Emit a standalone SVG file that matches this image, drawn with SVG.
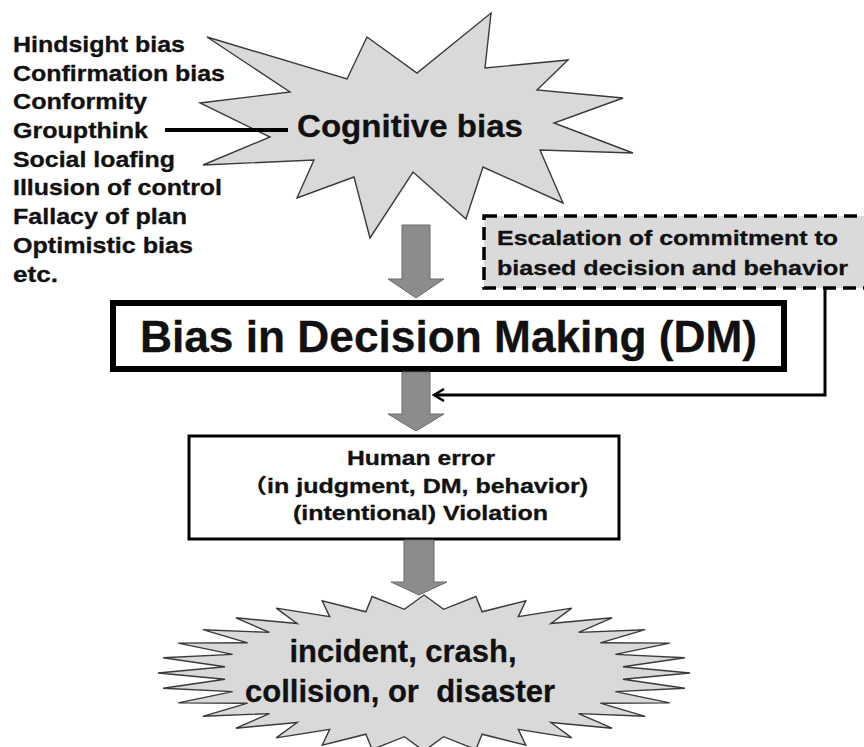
<svg xmlns="http://www.w3.org/2000/svg" width="864" height="747" viewBox="0 0 864 747">
<style>
text{font-family:"Liberation Sans",Arial,"Noto Sans CJK JP",sans-serif;font-weight:bold;fill:#111;stroke:#111;stroke-width:0.3}
.burst{fill:#d9d9d9;stroke:#3a3a3a;stroke-width:1.4;stroke-linejoin:miter}
.blk{fill:#8c8c8c;stroke:#6a6a6a;stroke-width:1}
.lst{font-size:22px}
.esc{font-size:21px}
.he{font-size:20px}
</style>
<defs>
<marker id="chev" viewBox="0 0 14 14" refX="12" refY="7" markerWidth="14" markerHeight="14" markerUnits="userSpaceOnUse" orient="auto">
<path d="M2,1 L12,7 L2,13" fill="none" stroke="#000" stroke-width="2.5"/>
</marker>
</defs>
<rect width="864" height="747" fill="#fff"/>

<g id="bias-list">
<text class="lst" x="13" y="52" textLength="172" lengthAdjust="spacingAndGlyphs">Hindsight bias</text>
<text class="lst" x="13" y="81" textLength="212" lengthAdjust="spacingAndGlyphs">Confirmation bias</text>
<text class="lst" x="13" y="109" textLength="134" lengthAdjust="spacingAndGlyphs">Conformity</text>
<text class="lst" x="13" y="138" textLength="135" lengthAdjust="spacingAndGlyphs">Groupthink</text>
<text class="lst" x="13" y="167" textLength="162" lengthAdjust="spacingAndGlyphs">Social loafing</text>
<text class="lst" x="13" y="195" textLength="209" lengthAdjust="spacingAndGlyphs">Illusion of control</text>
<text class="lst" x="13" y="224" textLength="174" lengthAdjust="spacingAndGlyphs">Fallacy of plan</text>
<text class="lst" x="13" y="253" textLength="180" lengthAdjust="spacingAndGlyphs">Optimistic bias</text>
<text class="lst" x="13" y="282" textLength="45" lengthAdjust="spacingAndGlyphs">etc.</text>
</g>

<g id="cognitive-bias">
<polygon class="burst" points="207,37 347,79 367,37 417,73 491,13 485,68 568,60 537,90 623,98 554,123 633,153 540,150 563,203 483,167 466,219 413,172 370,238 354,177 297,198 314,160 203,165 270,137 200,103 290,92"/>
<text x="410" y="137" font-size="32" text-anchor="middle" textLength="226" lengthAdjust="spacingAndGlyphs">Cognitive bias</text>
</g>

<g id="escalation">
<rect x="484" y="216" width="420" height="72" fill="#dadada" stroke="#000" stroke-width="3.5" stroke-dasharray="13 7"/>
<text class="esc" x="497" y="245" textLength="341" lengthAdjust="spacingAndGlyphs">Escalation of commitment to</text>
<text class="esc" x="497" y="275" textLength="351" lengthAdjust="spacingAndGlyphs">biased decision and behavior</text>
</g>

<g id="decision-making">
<rect x="113" y="303" width="671" height="66" fill="#fff" stroke="#000" stroke-width="6"/>
<text x="448.5" y="352" font-size="44" text-anchor="middle" textLength="617" lengthAdjust="spacingAndGlyphs">Bias in Decision Making (DM)</text>
</g>

<g id="human-error">
<rect x="189" y="436" width="430" height="103" fill="#fff" stroke="#000" stroke-width="3"/>
<text class="he" x="347" y="465" textLength="148" lengthAdjust="spacingAndGlyphs">Human error</text>
<text class="he" x="242" y="493" textLength="346" lengthAdjust="spacingAndGlyphs">（in judgment, DM, behavior)</text>
<text class="he" x="293" y="520" textLength="255" lengthAdjust="spacingAndGlyphs">(intentional) Violation</text>
</g>

<g id="outcome">
<polygon class="burst" points="424,595 443.6,609.3 475.9,596.5 482.1,611.8 525.8,600.9 518.3,616.6 571.8,608.1 550.9,623.5 612.1,617.8 578.6,632.4 645.2,629.7 600.4,642.8 669.8,643.1 615.4,654.4 684.9,657.8 623,666.7 690,673 623,679.3 684.9,688.2 615.4,691.6 669.8,702.9 600.4,703.2 645.2,716.3 578.6,713.6 612.1,728.2 550.9,722.5 571.8,737.9 518.3,729.4 525.8,745.1 482.1,734.2 475.9,749.5 443.6,736.7 424,751 404.4,736.7 372.1,749.5 365.9,734.2 322.2,745.1 329.7,729.4 276.2,737.9 297.1,722.5 235.9,728.2 269.4,713.6 202.8,716.3 247.6,703.2 178.2,702.9 232.6,691.6 163.1,688.2 225,679.3 158,673 225,666.7 163.1,657.8 232.6,654.4 178.2,643.1 247.6,642.8 202.8,629.7 269.4,632.4 235.9,617.8 297.1,623.5 276.2,608.1 329.7,616.6 322.2,600.9 365.9,611.8 372.1,596.5 404.4,609.3"/>
<text x="403" y="662" font-size="31" text-anchor="middle" textLength="227" lengthAdjust="spacingAndGlyphs">incident, crash,</text>
<text x="400" y="702" font-size="31" text-anchor="middle" textLength="310" lengthAdjust="spacingAndGlyphs" xml:space="preserve">collision, or  disaster</text>
</g>

<g id="connectors">
<line x1="165" y1="130" x2="288" y2="130" stroke="#000" stroke-width="4"/>
<polygon class="blk" points="402,225 430,225 430,279 444,279 416,298 388,279 402,279"/>
<polygon class="blk" points="402,372 430,372 430,414 444,414 416,431 388,414 402,414"/>
<polygon class="blk" points="404,540 434,540 434,582 447,582 419,595 391,582 404,582"/>
<polyline points="825,288 825,395 434,395" fill="none" stroke="#000" stroke-width="3" marker-end="url(#chev)"/>
</g>
</svg>
